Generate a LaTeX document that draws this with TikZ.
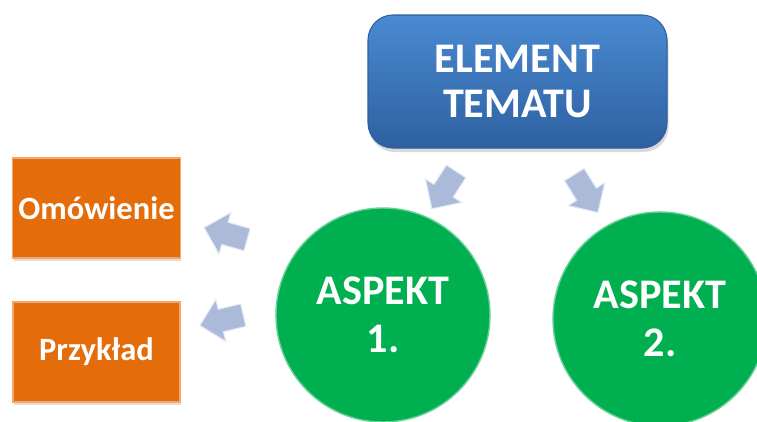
\documentclass[tikz,border=0pt]{standalone}
\usepackage{fontspec}
\setmainfont{Carlito}
\usetikzlibrary{shapes.arrows,shadows,calc}

\definecolor{elemblue}{RGB}{74,138,210}
\definecolor{elemdark}{RGB}{46,96,160}
\definecolor{aspgreen}{RGB}{0,176,80}
\definecolor{detailorange}{RGB}{228,108,10}
\definecolor{arrowgray}{RGB}{170,186,216}
\definecolor{arrowlight}{RGB}{225,232,246}

\newcommand{\shaft}{\phantom{\rule{0.64cm}{0.44cm}}}

\begin{document}
\begin{tikzpicture}[
  element/.style={rectangle,rounded corners=0.5cm,minimum width=5.98cm,minimum height=2.66cm,
    top color=elemblue,bottom color=elemdark,draw=elemdark,line width=0.6pt,
    text=white,align=center,font=\fontsize{24}{26}\selectfont\bfseries,
    drop shadow={opacity=0.3,shadow xshift=0.03cm,shadow yshift=-0.08cm}},
  aspekt/.style={circle,minimum size=4.28cm,inner sep=0pt,fill=aspgreen,
    draw=aspgreen!60!white,line width=0.8pt,
    text=white,align=center,font=\fontsize{24}{27}\selectfont\bfseries},
  detail/.style={rectangle,minimum width=3.34cm,minimum height=2cm,fill=detailorange,
    draw=detailorange!60!white,line width=0.8pt,
    text=white,font=\fontsize{18.5}{20}\selectfont\bfseries,
    drop shadow={opacity=0.25,shadow xshift=0.02cm,shadow yshift=-0.06cm}},
  blockarrow/.style={single arrow,single arrow head extend=0.2cm,inner sep=0pt,
    fill=arrowgray,draw=arrowlight,line width=0.6pt,
    sloped,allow upside down}
]

\useasboundingbox (0,0) rectangle (15.14,8.42);

\node[element] (elem) at (10.35,6.79) {ELEMENT\\TEMATU};

\node[aspekt] (asp1) at (7.66,2.12) {ASPEKT\\1.};
\node[aspekt] (asp2) at (13.20,2.04) {ASPEKT\\2.};

\node[detail] (omow)  at (1.93,4.26) {Omówienie};
\node[detail] (przyk) at (1.93,1.38) {Przykład};

\path ($(elem.south west)!0.345!(elem.south east)$) -- (asp1.66)
  node[blockarrow,pos=0.54] (arr1) {\shaft};
\path ($(elem.south west)!0.635!(elem.south east)$) -- (asp2.120)
  node[blockarrow,pos=0.52] (arr2) {\shaft};
\path (asp1.145) -- ($(omow.east)+(0,-0.26)$)
  node[blockarrow,pos=0.56] (arr3) {\shaft};
\path (asp1.176) -- ($(przyk.east)+(0,0.44)$)
  node[blockarrow,pos=0.51] (arr4) {\shaft};

\end{tikzpicture}
\end{document}
